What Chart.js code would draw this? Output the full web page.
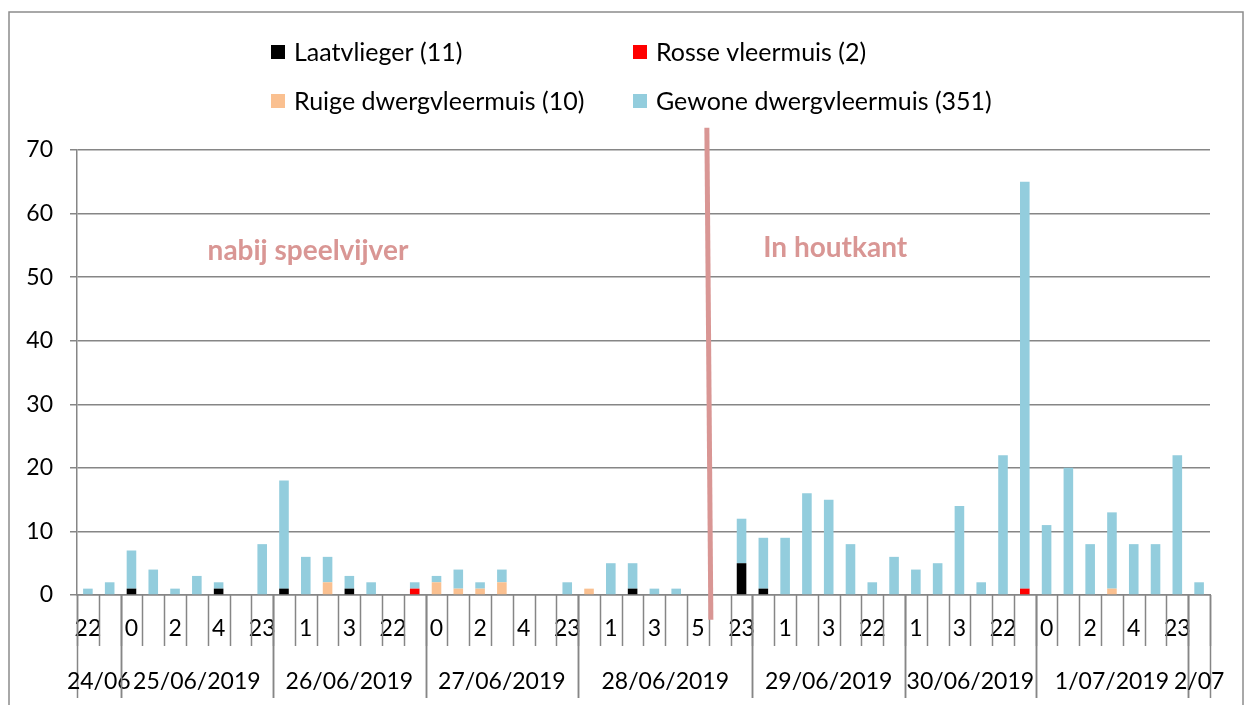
<!DOCTYPE html>
<html>
<head>
<meta charset="utf-8">
<script src="https://cdn.jsdelivr.net/npm/chart.js@4"></script>
<style>
  body { margin: 0; background: #fff; }
  canvas { display: block; }
</style>
</head>
<body>
<canvas id="myChart" width="1246" height="705"></canvas>
<script>
// hour of each bar, grouped per date
const hours = [
  "22", "23",
  "0", "1", "2", "3", "4", "22", "23",
  "0", "1", "2", "3", "4", "22", "23",
  "0", "1", "2", "3", "4", "22", "23",
  "0", "1", "2", "3", "4", "5", "22", "23",
  "0", "1", "2", "3", "4", "22", "23",
  "1", "2", "3", "4", "22", "23",
  "0", "1", "2", "3", "4", "22", "23",
  "0"
];
const dayLabels = ["24/06", "25/06/2019", "26/06/2019", "27/06/2019", "28/06/2019", "29/06/2019", "30/06/2019", "1/07/2019", "2/07"];
const dayCounts = [2, 7, 7, 7, 8, 7, 6, 7, 1];

const seriesNames = ["Laatvlieger (11)", "Rosse vleermuis (2)", "Ruige dwergvleermuis (10)", "Gewone dwergvleermuis (351)"];
const laatvlieger = [0,0,1,0,0,0,1,0,0,1, 0,0,1,0,0,0,0,0,0,0, 0,0,0,0,0,1,0,0,0,0, 5,1,0,0,0,0,0,0,0,0, 0,0,0,0,0,0,0,0,0,0, 0,0];
const rosse = [0,0,0,0,0,0,0,0,0,0, 0,0,0,0,0,1,0,0,0,0, 0,0,0,0,0,0,0,0,0,0, 0,0,0,0,0,0,0,0,0,0, 0,0,0,1,0,0,0,0,0,0, 0,0];
const ruige = [0,0,0,0,0,0,0,0,0,0, 0,2,0,0,0,0,2,1,1,2, 0,0,0,1,0,0,0,0,0,0, 0,0,0,0,0,0,0,0,0,0, 0,0,0,0,0,0,0,1,0,0, 0,0];
const gewone = [1,2,6,4,1,3,1,0,8,17, 6,4,2,2,0,1,1,3,1,2, 0,0,2,0,5,4,1,1,0,0, 7,8,9,16,15,8,2,6,4,5, 14,2,22,64,11,20,8,12,8,8, 22,2];
const colors = ["#000000", "#FF0000", "#FAC090", "#93CDDD"];

const zoneLabels = ["nabij speelvijver", "In houtkant"];

const FONT = "Lato";
const gridGray = "#868686";

Chart.defaults.font.family = FONT;
Chart.defaults.font.size = 23;
Chart.defaults.color = "#000";

let overlay = {
  id: "overlay",
  afterDraw: (chart) => {
    const ctx = chart.ctx;
    const x = chart.scales.x;
    const y = chart.scales.y;
    const bottom = chart.chartArea.bottom;
    const step = x.getPixelForValue(1) - x.getPixelForValue(0);
    const x0 = x.getPixelForValue(0) - step / 2;
    ctx.save();

    // outer frame
    ctx.strokeStyle = "#8c8c8c";
    ctx.lineWidth = 1.5;
    ctx.strokeRect(9, 12, 1234, 720);

    // hour separators
    ctx.strokeStyle = gridGray;
    ctx.lineWidth = 1.5;
    for (let i = 0; i <= hours.length; i++) {
      let px = Math.round(x0 + i * step) + 0.5;
      ctx.beginPath();
      ctx.moveTo(px, bottom);
      ctx.lineTo(px, bottom + 51);
      ctx.stroke();
    }

    // date groups
    let idx = 0;
    ctx.fillStyle = "#000";
    ctx.font = `23px ${FONT}`;
    ctx.textAlign = "center";
    ctx.textBaseline = "middle";
    for (let k = 0; k < dayLabels.length; k++) {
      let left = x0 + idx * step;
      let right = left + dayCounts[k] * step;
      for (let px of [left, right]) {
        ctx.beginPath();
        ctx.moveTo(Math.round(px) + 0.5, bottom);
        ctx.lineTo(Math.round(px) + 0.5, bottom + 103);
        ctx.stroke();
      }
      ctx.fillText(dayLabels[k], (left + right) / 2, bottom + 87);
      idx += dayCounts[k];
    }

    // divider between the two locations
    let xd = x.getPixelForValue(28.5);
    ctx.strokeStyle = "#D99694";
    ctx.lineWidth = 5;
    ctx.beginPath();
    ctx.moveTo(xd - 2, y.getPixelForValue(73.5));
    ctx.lineTo(xd + 2, y.getPixelForValue(-3.9));
    ctx.stroke();

    ctx.fillStyle = "#D99694";
    ctx.font = `bold 28px ${FONT}`;
    ctx.fillText(zoneLabels[0], x.getPixelForValue(10.1), y.getPixelForValue(54.1));
    ctx.fillText(zoneLabels[1], x.getPixelForValue(34.3), y.getPixelForValue(54.6));

    // legend, 2 x 2
    const legendPos = [[271, 52], [633, 52], [271, 101], [633, 101]];
    ctx.font = `25px ${FONT}`;
    ctx.textAlign = "left";
    for (let i = 0; i < seriesNames.length; i++) {
      let [lx, ly] = legendPos[i];
      ctx.fillStyle = colors[i];
      ctx.fillRect(lx, ly - 7, 14, 14);
      ctx.fillStyle = "#000";
      ctx.fillText(seriesNames[i], lx + 23, ly + 1);
    }
    ctx.restore();
  },
};

const data = {
  labels: hours,
  datasets: [
    { label: seriesNames[0], data: laatvlieger, backgroundColor: colors[0] },
    { label: seriesNames[1], data: rosse, backgroundColor: colors[1] },
    { label: seriesNames[2], data: ruige, backgroundColor: colors[2] },
    { label: seriesNames[3], data: gewone, backgroundColor: colors[3] },
  ],
};

const config = {
  type: "bar",
  data: data,
  plugins: [overlay],
  options: {
    responsive: false,
    animation: false,
    datasets: { bar: { barPercentage: 1, categoryPercentage: 0.44 } },
    layout: { padding: { top: 150, right: 36, left: 0, bottom: 0 } },
    plugins: { legend: { display: false }, tooltip: { enabled: false } },
    scales: {
      x: {
        stacked: true,
        offset: true,
        grid: { display: true, drawOnChartArea: false, drawTicks: false, offset: true },
        border: { color: gridGray, width: 1.5 },
        ticks: {
          autoSkip: false,
          maxRotation: 0,
          padding: 20,
          callback: (v, i) => (i % 2 === 0 ? hours[i] : ""),
        },
        afterFit: (scale) => { scale.height = 110; },
      },
      y: {
        stacked: true,
        min: 0,
        max: 70,
        ticks: { stepSize: 10, padding: 17 },
        grid: { color: gridGray, lineWidth: 1.5, tickLength: 7 },
        border: { color: gridGray, width: 1.5 },
        afterFit: (scale) => { scale.width = 77; },
      },
    },
  },
};

const myChart = new Chart(document.getElementById("myChart"), config);
</script>
</body>
</html>
